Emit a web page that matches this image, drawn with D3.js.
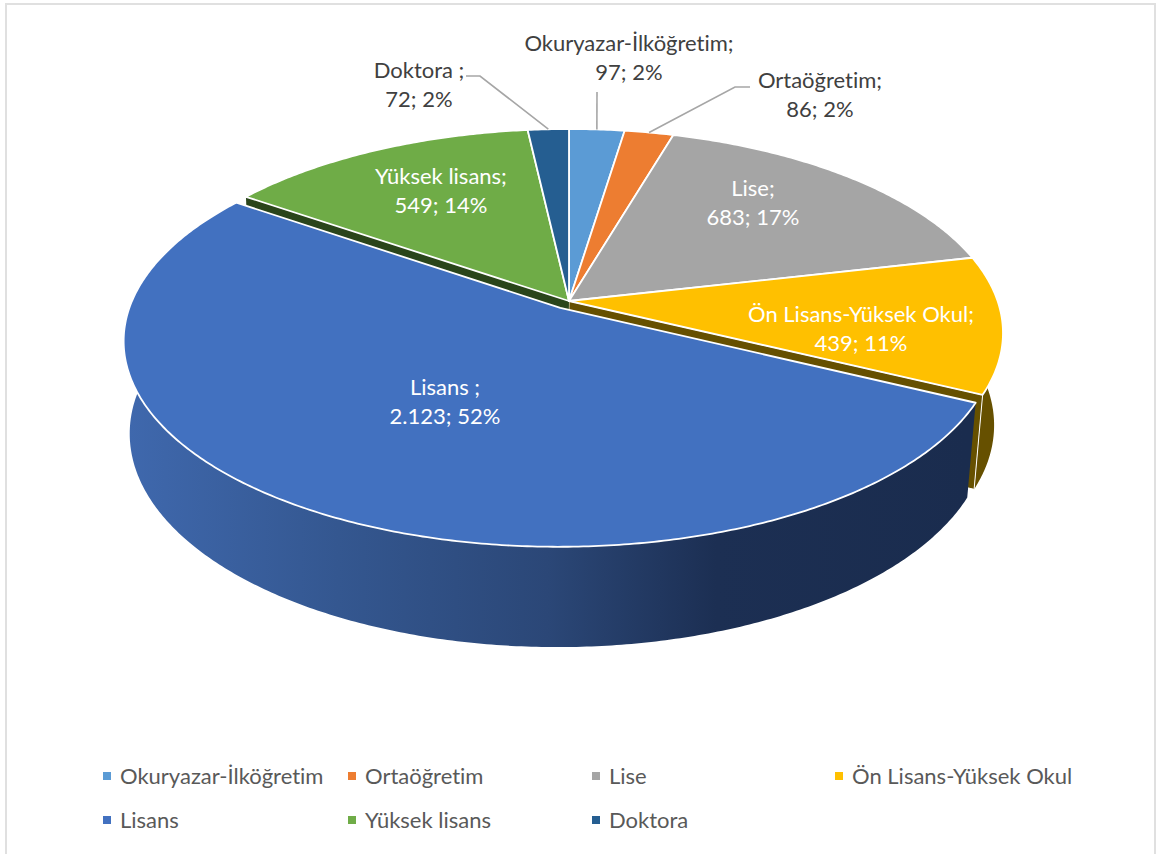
<!DOCTYPE html>
<html>
<head>
<meta charset="utf-8">
<script src="https://cdn.jsdelivr.net/npm/d3@7"></script>
<style>
  html, body { margin: 0; padding: 0; background: #fff; }
  svg { display: block; font-family: Lato, "Open Sans", sans-serif; font-variant-ligatures: none; }
</style>
</head>
<body>
<div id="chart"></div>
<script>
const categories = ['Okuryazar-İlköğretim', 'Ortaöğretim', 'Lise', 'Ön Lisans-Yüksek Okul', 'Lisans', 'Yüksek lisans', 'Doktora'];
const values = [97, 86, 683, 439, 2123, 549, 72];
const colors = ['#5b9bd5', '#ed7d31', '#a5a5a5', '#ffc000', '#4271c0', '#6fac47', '#255e91'];
const sideColors = ['#2e4e6b', '#773f19', '#535353', '#665000', '#223962', '#2a451b', '#132f49'];
const labelSep = [';', ';', ';', ';', ' ;', ';', ' ;'];

const width = 1156, height = 854;

const svg = d3.select('#chart').append('svg')
    .attr('width', width)
    .attr('height', height);

const defs = svg.append('defs');
const wallGrad = defs.append('linearGradient')
    .attr('id', 'lisansWall')
    .attr('gradientUnits', 'userSpaceOnUse')
    .attr('x1', 128).attr('x2', 968).attr('y1', 0).attr('y2', 0);
wallGrad.append('stop').attr('offset', '0%').attr('stop-color', '#3f68ad');
wallGrad.append('stop').attr('offset', '25%').attr('stop-color', '#345790');
wallGrad.append('stop').attr('offset', '50%').attr('stop-color', '#2b4777');
wallGrad.append('stop').attr('offset', '70%').attr('stop-color', '#1c2f53');
wallGrad.append('stop').attr('offset', '100%').attr('stop-color', '#1a2c4e');

// frame round the chart
svg.append('rect')
    .attr('x', 6).attr('y', 4)
    .attr('width', 1149).attr('height', height)
    .attr('fill', 'none')
    .attr('stroke', '#e0e0e0')
    .attr('stroke-width', 2);

// perspective of the disc, fitted on the slice corners
const cx = 569, cy = 301, rx = 428.6, ry = 199, persp = 0.157;
const explode = 0.04;       // Lisans pulled out of the pie
const depth = 91, lowShift = -1.5, lowX = 0.983, lowY = 1.038;

const total = d3.sum(values);
const fmtLocale = d3.formatLocale({decimal: ',', thousands: '.', grouping: [3], currency: ['', '']});
const fmtValue = fmtLocale.format(',d');
const fmtPct = d3.format('.0%');

const pie = d3.pie().sort(null).value(d => d.value);
const slices = pie(categories.map((name, i) => ({name, value: values[i], i})));

// disc coordinates (u, v) to screen; low = true gives the bottom face
function project(u, v, low) {
  const w = 1 - persp * v;
  if (low) return [cx + lowShift + lowX * rx * u / w, cy + depth + lowY * ry * v / w];
  return [cx + rx * u / w, cy + ry * v / w];
}
function polar(a, r, off) {
  return [off[0] + r * Math.sin(a), off[1] - r * Math.cos(a)];
}
function offsetOf(d) {
  if (d.data.name !== 'Lisans') return [0, 0];
  const mid = (d.startAngle + d.endAngle) / 2;
  return polar(mid, explode, [0, 0]);
}
function rimPts(a0, a1, off, low) {
  const n = Math.max(2, Math.ceil(Math.abs(a1 - a0) / 0.01));
  return d3.range(n + 1).map(k => {
    const p = polar(a0 + (a1 - a0) * k / n, 1, off);
    return project(p[0], p[1], low);
  });
}
const line = d3.line();

function topPath(d) {
  const off = offsetOf(d);
  return line([project(off[0], off[1]), ...rimPts(d.startAngle, d.endAngle, off)]) + 'Z';
}
// outer wall between two angles, one quad per rim step so the silhouette stays filled
function wallPath(a0, a1, off) {
  const up = rimPts(a0, a1, off), low = rimPts(a0, a1, off, true);
  return d3.range(up.length - 1)
    .map(k => line([up[k], up[k + 1], low[k + 1], low[k]]) + 'Z')
    .join('');
}
// flat cut from the axis out to the rim at one angle
function cutPath(a, off) {
  const c = project(off[0], off[1]), cl = project(off[0], off[1], true);
  const p = polar(a, 1, off);
  return line([c, project(p[0], p[1]), project(p[0], p[1], true), cl]) + 'Z';
}

const gSide = svg.append('g');
const gTop = svg.append('g');
const gExp = svg.append('g');

const lis = slices.find(d => d.data.name === 'Lisans');
const gold = slices.find(d => d.data.name === 'Ön Lisans-Yüksek Okul');
const green = slices.find(d => d.data.name === 'Yüksek lisans');
const zero = [0, 0];

// what shows behind the pulled out slice
gSide.append('path').attr('d', wallPath(gold.startAngle, gold.endAngle, zero))
    .attr('fill', sideColors[gold.data.i]);
gSide.append('path').attr('d', cutPath(gold.endAngle, zero))
    .attr('fill', sideColors[gold.data.i])
    .attr('stroke', '#fff')
    .attr('stroke-width', 1);
gSide.append('path').attr('d', cutPath(green.startAngle, zero))
    .attr('fill', sideColors[green.data.i]);

gTop.selectAll('path')
  .data(slices.filter(d => d !== lis))
  .join('path')
    .attr('d', topPath)
    .attr('fill', d => colors[d.data.i])
    .attr('stroke', '#fff')
    .attr('stroke-width', 1.8)
    .attr('stroke-linejoin', 'round');

const offL = offsetOf(lis);
gExp.append('path')
    .attr('d', wallPath(lis.startAngle, lis.endAngle, offL))
    .attr('fill', 'url(#lisansWall)');
gExp.append('path')
    .attr('d', topPath(lis))
    .attr('fill', colors[lis.data.i])
    .attr('stroke', '#fff')
    .attr('stroke-width', 1.8)
    .attr('stroke-linejoin', 'round');

// leader lines
const elbows = {
  'Okuryazar-İlköğretim': [[597, 92]],
  'Ortaöğretim': [[735, 87], [750, 87]],
  'Doktora': [[480, 76], [466, 76]]
};
svg.append('g').selectAll('path')
  .data(slices.filter(d => elbows[d.data.name]))
  .join('path')
    .attr('d', d => {
      const p = polar((d.startAngle + d.endAngle) / 2, 1, zero);
      return line([project(p[0], p[1]), ...elbows[d.data.name]]);
    })
    .attr('fill', 'none')
    .attr('stroke', '#a6a6a6')
    .attr('stroke-width', 1.6);

// data labels, [centre x, first baseline]
const labelPos = [[629, 51], [820, 88], [753, 196], [861, 322], [445, 395], [441, 184], [419, 78]];
const labelFill = ['#404040', '#404040', '#fff', '#fff', '#fff', '#fff', '#404040'];
const labels = svg.append('g').attr('font-size', 22).attr('text-anchor', 'middle');
slices.forEach(d => {
  const i = d.data.i;
  const t = labels.append('text')
      .attr('fill', labelFill[i])
      .attr('x', labelPos[i][0])
      .attr('y', labelPos[i][1]);
  t.append('tspan').text(d.data.name + labelSep[i]);
  t.append('tspan')
      .attr('x', labelPos[i][0])
      .attr('dy', 29)
      .text(fmtValue(d.data.value) + '; ' + fmtPct(d.data.value / total));
});

// legend
const legendX = d3.scaleOrdinal().domain([0, 1, 2, 3]).range([107, 352, 596, 839]);
const legendY = d3.scaleOrdinal().domain([0, 1]).range([776, 820]);
const legend = svg.append('g').selectAll('g')
  .data(categories)
  .join('g')
    .attr('transform', (d, i) => `translate(${legendX(i % 4)},${legendY(Math.floor(i / 4))})`);
legend.append('rect')
    .attr('x', -4).attr('y', -4).attr('width', 8).attr('height', 8)
    .attr('fill', (d, i) => colors[i]);
legend.append('text')
    .attr('x', 13)
    .attr('y', 8)
    .attr('font-size', 22)
    .attr('fill', '#595959')
    .text(d => d);
</script>
</body>
</html>
